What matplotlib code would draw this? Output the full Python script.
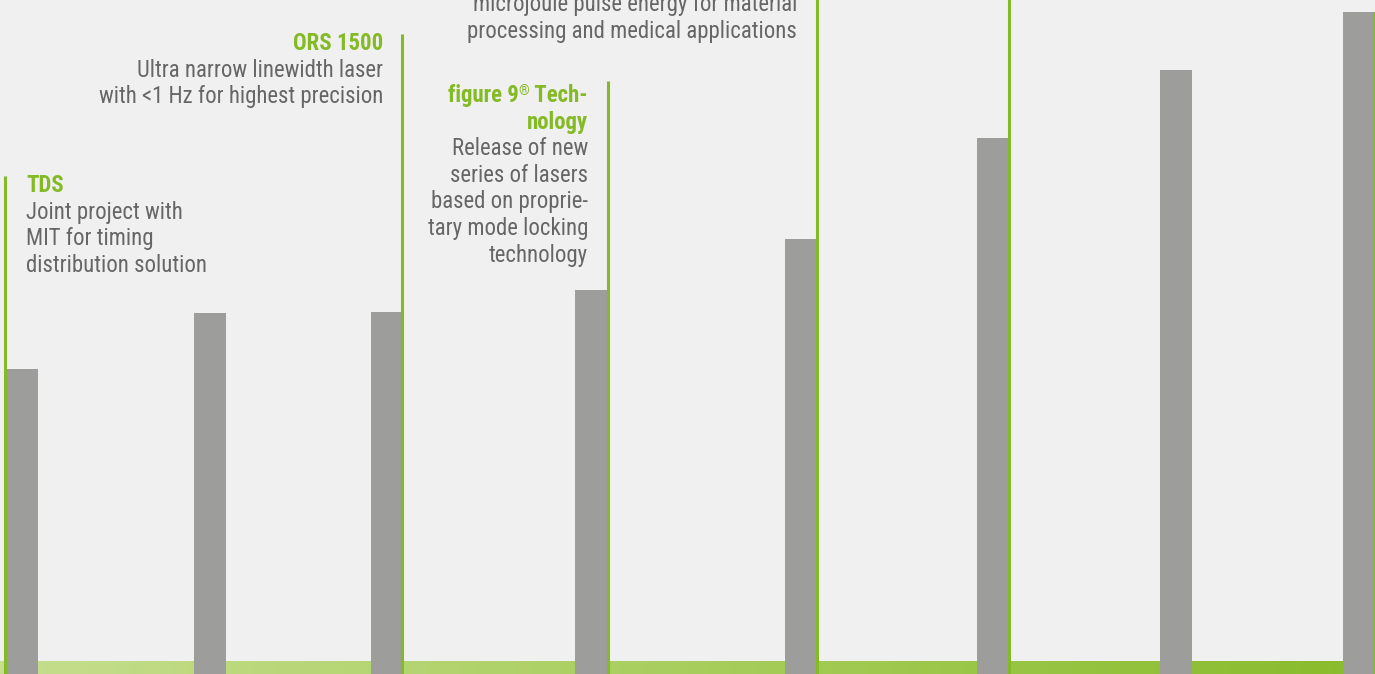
import matplotlib
matplotlib.use("Agg")
import matplotlib.pyplot as plt
import numpy as np
from matplotlib.colors import LinearSegmentedColormap

# ---- data ----
bar_positions = [22, 210.5, 387, 591.5, 801, 993, 1176.5, 1359]
bar_values = [305, 361, 362, 384, 435, 536, 604, 662]

event_positions = [5.5, 402.5, 608, 817.5, 1009.5, 1374.5]
event_line_tops = [498, 640, 593, 680, 680, 662]

tds_title = ["TDS"]
tds_body = ["Joint project with", "MIT for timing", "distribution solution"]
ors_title = ["ORS 1500"]
ors_body = ["Ultra narrow linewidth laser", "with <1 Hz for highest precision"]
fig9_title_parts = ["figure 9", "®", " Tech-"]
fig9_title_rest = ["nology"]
fig9_body = ["Release of new", "series of lasers", "based on proprie-",
             "tary mode locking", "technology"]
top_body = ["microjoule pulse energy for material",
            "processing and medical applications"]

# ---- style ----
BG = "#f0f0f0"
BAR = "#9d9d9b"
GREEN = "#84ba26"
TEXT = "#666666"
W, H = 1375, 674

plt.rcParams["font.family"] = ["Roboto Condensed", "Liberation Sans Narrow",
                               "Liberation Sans", "DejaVu Sans"]

fig = plt.figure(figsize=(W / 100, H / 100), dpi=100, facecolor=BG)
ax = fig.add_axes([0, 0, 1, 1])
ax.set_facecolor(BG)
ax.set_xlim(0, W)
ax.set_ylim(0, H)
ax.axis("off")

# bottom gradient strip
cmap = LinearSegmentedColormap.from_list("g", ["#c6de8e", "#a8ce5d", "#88bb2b"])
grad = np.linspace(0, 1, 512).reshape(1, -1)
ax.imshow(grad, extent=(0, W, 0, 13), aspect="auto", cmap=cmap, zorder=1,
          interpolation="bilinear")

# bars
ax.bar(bar_positions, bar_values, width=32, color=BAR, zorder=3, linewidth=0)

# event lines
ax.vlines(event_positions, 0, event_line_tops, colors=GREEN, linewidth=2.2,
          zorder=4)

FS = 16.4
LS = 26.6
renderer = fig.canvas.get_renderer()


def block(x, y_top_baseline, title, body, ha):
    y = H - y_top_baseline
    for line in title:
        ax.text(x, y, line, ha=ha, va="baseline", fontsize=FS,
                fontweight="bold", color=GREEN, zorder=5)
        y -= LS
    for line in body:
        ax.text(x, y, line, ha=ha, va="baseline", fontsize=FS,
                color=TEXT, zorder=5)
        y -= LS


block(26, 192, tds_title, tds_body, "left")
block(383, 50, ors_title, ors_body, "right")
block(797, 11, [], top_body, "right")

# figure 9 block with superscript registered sign
xr = 588
yb = H - 102
t3 = ax.text(xr, yb, fig9_title_parts[2], ha="right", va="baseline",
             fontsize=FS, fontweight="bold", color=GREEN, zorder=5)
w3 = t3.get_window_extent(renderer).width
t2 = ax.text(xr - w3, yb + 7, fig9_title_parts[1], ha="right", va="baseline",
             fontsize=FS * 0.6, fontweight="bold", color=GREEN, zorder=5)
w2 = t2.get_window_extent(renderer).width
ax.text(xr - w3 - w2, yb, fig9_title_parts[0], ha="right", va="baseline",
        fontsize=FS, fontweight="bold", color=GREEN, zorder=5)
block(xr, 102 + LS, fig9_title_rest, fig9_body, "right")

fig.savefig("out.png", dpi=100, facecolor=BG)
